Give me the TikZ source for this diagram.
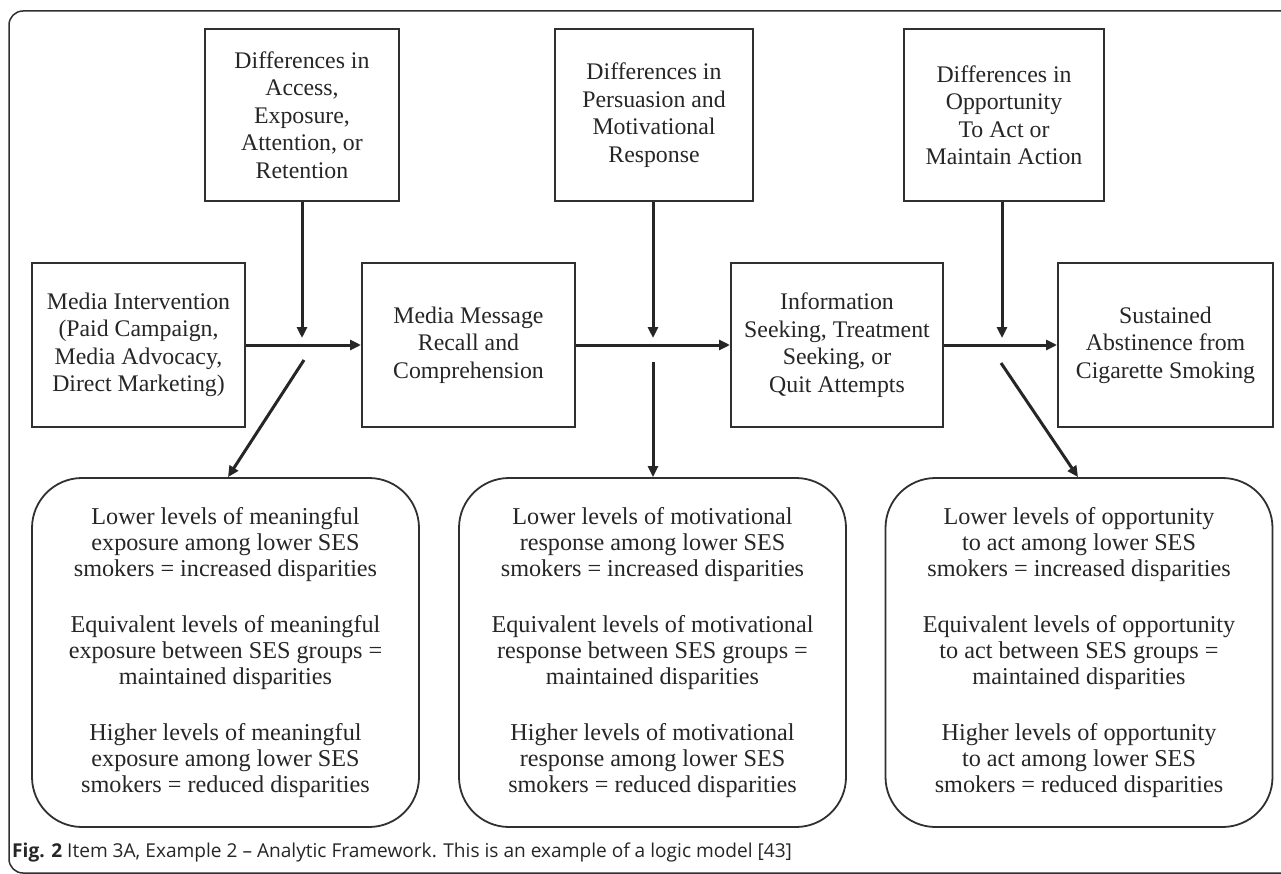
\documentclass[tikz,border=0pt]{standalone}
\usepackage{fontspec}
\setmainfont{Liberation Serif}
\newfontfamily\capfont{Open Sans}
\usetikzlibrary{arrows.meta}
\definecolor{ink}{HTML}{262626}
\definecolor{lineink}{HTML}{303030}
\tikzset{
  sqbox/.style={draw=lineink, line width=2pt, inner sep=0pt, align=center, text=ink,
    font=\fontsize{23.8}{27.5}\selectfont},
  rbox/.style={draw=lineink, line width=1.8pt, rounded corners=50pt, inner sep=0pt, align=center, text=ink,
    minimum width=387pt, minimum height=349pt, font=\fontsize{24.2}{26.3}\selectfont},
  conn/.style={draw=ink, line width=3pt, -{Triangle[length=11pt,width=10pt]}},
  frame/.style={draw=lineink, line width=1.5pt, rounded corners=14pt}
}
\begin{document}
\begin{tikzpicture}[x=1pt,y=-1pt]
\useasboundingbox (0,0) rectangle (1281,874);
\clip (0,0) rectangle (1281,874);
\fill[white] (0,0) rectangle (1281,874);
\draw[frame] (9,11) rectangle (1310,873);

% top boxes
\node[sqbox, minimum width=194pt, minimum height=172pt] (acc) at (302,115)
  {Differences in\\Access,\\Exposure,\\Attention, or\\Retention};
\node[sqbox, minimum width=198pt, minimum height=172pt] (per) at (654,115)
  {Differences in\\Persuasion and\\Motivational\\Response};
\node[sqbox, minimum width=200pt, minimum height=172pt] (opp) at (1004,115)
  {Differences in\\Opportunity\\To Act or\\Maintain Action};

% middle row
\node[sqbox, minimum width=213pt, minimum height=164pt] (mi) at (138.5,345)
  {Media Intervention\\(Paid Campaign,\\Media Advocacy,\\Direct Marketing)};
\node[sqbox, minimum width=213pt, minimum height=164pt] (mm) at (468.5,345)
  {Media Message\\Recall and\\Comprehension};
\node[sqbox, minimum width=212pt, minimum height=164pt] (info) at (837,345)
  {Information\\Seeking, Treatment\\Seeking, or\\Quit Attempts};
\node[sqbox, minimum width=215pt, minimum height=164pt] (sus) at (1165.5,345)
  {Sustained\\Abstinence from\\Cigarette Smoking};

% rounded boxes
\node[rbox] (r1) at (225.5,652.5)
  {Lower levels of meaningful\\exposure among lower SES\\smokers = increased disparities\\[29pt]
   Equivalent levels of meaningful\\exposure between SES groups =\\maintained disparities\\[29pt]
   Higher levels of meaningful\\exposure among lower SES\\smokers = reduced disparities};
\node[rbox] (r2) at (652.5,652.5)
  {Lower levels of motivational\\response among lower SES\\smokers = increased disparities\\[29pt]
   Equivalent levels of motivational\\response between SES groups =\\maintained disparities\\[29pt]
   Higher levels of motivational\\response among lower SES\\smokers = reduced disparities};
\node[rbox] (r3) at (1079,652.5)
  {Lower levels of opportunity\\to act among lower SES\\smokers = increased disparities\\[29pt]
   Equivalent levels of opportunity\\to act between SES groups =\\maintained disparities\\[29pt]
   Higher levels of opportunity\\to act among lower SES\\smokers = reduced disparities};

% junction coordinates
\coordinate (j1) at (302,338);
\coordinate (k1) at (304,360);
\coordinate (j2) at (653,338);
\coordinate (k2) at (653,362);
\coordinate (j3) at (1002,338);
\coordinate (k3) at (1001,363);

% horizontal flow
\draw[conn] (mi.east) -- (mm.west);
\draw[conn] (mm.east) -- (info.west);
\draw[conn] (info.east) -- (sus.west);

% moderators
\draw[conn] (acc.south -| j1) -- (j1);
\draw[conn] (per.south -| j2) -- (j2);
\draw[conn] (opp.south -| j3) -- (j3);

% outcomes
\draw[conn] (k1) -- ([xshift=2.5pt]r1.north);
\draw[conn] (k2) -- (k2 |- r2.north);
\draw[conn] (k3) -- ([xshift=-1pt]r3.north);

% caption
\node[anchor=base west, inner sep=0pt, text=ink, font=\capfont\fontsize{19.1}{23}\selectfont] (cap) at (12,857)
  {\textbf{Fig. 2} Item 3A, Example 2 – Analytic Framework. This is an example of a logic model [43]};
\end{tikzpicture}
\end{document}
